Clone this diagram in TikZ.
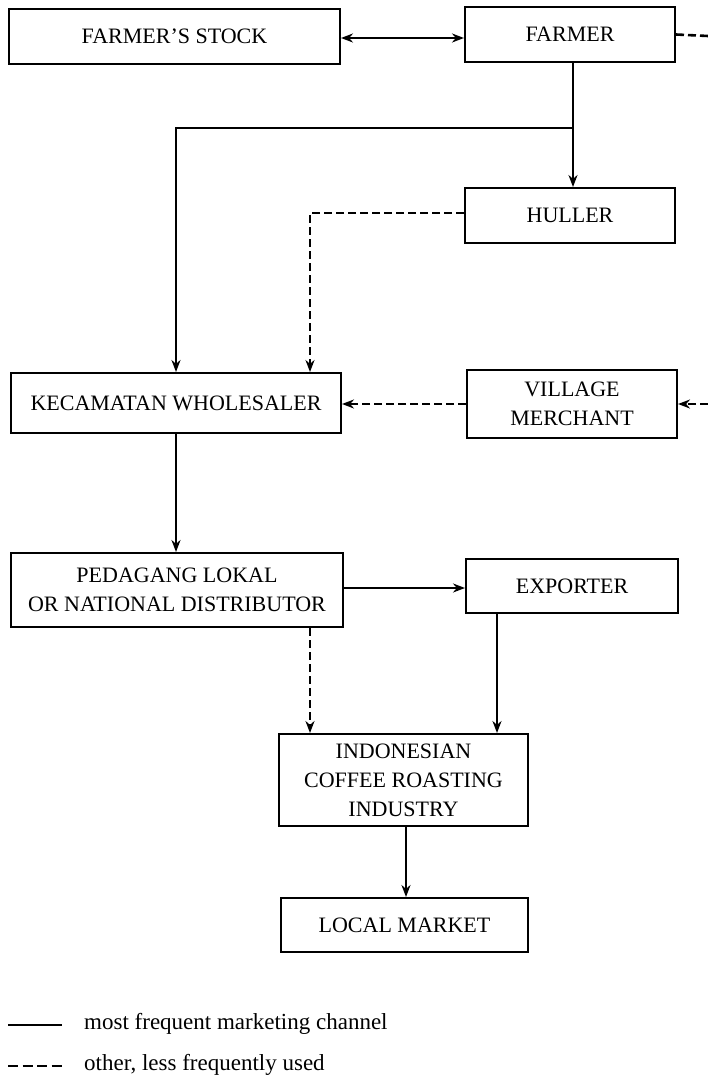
\documentclass[tikz,border=0pt]{standalone}
\usepackage{fontspec}
\setmainfont{Liberation Serif}
\usepackage{tikz}
\usetikzlibrary{arrows.meta,positioning,calc}

\begin{document}
\begin{tikzpicture}[x=1pt,y=-1pt,
		box/.style={draw, line width=2pt, align=center, inner sep=0pt, font=\fontsize{22}{29}\selectfont},
		often/.style={line width=2.6pt},
		rare/.style={line width=2.6pt, dash pattern=on 8pt off 4pt},
		tip/.style={-{Stealth[length=12pt,width=9pt]}},
		]
		\useasboundingbox (0,0) rectangle (708,1081);
		% boxes
		\node[box, minimum width=331pt, minimum height=55pt] (stock) at (174.5,36.5) {FARMER'S STOCK};
		\node[box, minimum width=210pt, minimum height=55pt] (farmer) at (570,34.5) {FARMER};
		\node[box, minimum width=210pt, minimum height=55pt] (huller) at (570,215.5) {HULLER};
		\node[box, minimum width=330pt, minimum height=60pt] (kec) at (176,403) {KECAMATAN WHOLESALER};
		\node[box, minimum width=210pt, minimum height=68pt] (village) at (572,404) {VILLAGE\\MERCHANT};
		\node[box, minimum width=332pt, minimum height=74pt] (pedagang) at (177,590) {PEDAGANG LOKAL\\OR NATIONAL DISTRIBUTOR};
		\node[box, minimum width=212pt, minimum height=54pt] (exporter) at (572,586) {EXPORTER};
		\node[box, minimum width=249pt, minimum height=92pt] (roast) at (403.5,780) {INDONESIAN\\COFFEE ROASTING\\INDUSTRY};
		\node[box, minimum width=247pt, minimum height=54pt] (local) at (404.5,925) {LOCAL MARKET};
		% free ends and corners
		\coordinate (fout) at (708,36);
		\coordinate (vin) at (708,404);
		\coordinate (split) at (573,128);
		\coordinate (hturn) at (310,213);
		\coordinate (kcol) at (176,0);
		\coordinate (xcol) at (497,0);
		\coordinate (rcol) at (406,0);
		\coordinate (prow) at (0,588);
		\coordinate (srow) at (0,38);
		% channels
		\draw[often, {Stealth[length=12pt,width=9pt]}-{Stealth[length=12pt,width=9pt]}] (stock.east |- srow) -- (farmer.west |- srow);
		\draw[rare] (farmer.east) -- (fout);
		\draw[often] (farmer.south -| split) -- (split);
		\draw[often, tip] (split) -- (huller.north -| split);
		\draw[often, tip] (split) -| (kec.north -| kcol);
		\draw[rare, tip] (huller.west |- hturn) -- (hturn) -- (kec.north -| hturn);
		\draw[rare, tip] (village.west) -- (village.west -| kec.east);
		\draw[rare, tip] (vin) -- (village.east);
		\draw[often, tip] (kec.south -| kcol) -- (pedagang.north -| kcol);
		\draw[often, tip] (pedagang.east |- prow) -- (exporter.west |- prow);
		\draw[rare, tip] (pedagang.south -| hturn) -- (roast.north -| hturn);
		\draw[often, tip] (exporter.south -| xcol) -- (roast.north -| xcol);
		\draw[often, tip] (roast.south -| rcol) -- (local.north -| rcol);
		% legend
		\coordinate (l1a) at (8,1025);
		\coordinate (l1b) at (62,1025);
		\coordinate (l2a) at (8,1066);
		\coordinate (l2b) at (62,1066);
		\draw[often] (l1a) -- (l1b);
		\draw[rare, dash pattern=on 10pt off 4.5pt] (l2a) -- (l2b);
		\node[anchor=west, inner sep=0pt, font=\fontsize{23}{26}\selectfont] (leg1) at (84,1024) {most frequent marketing channel};
		\node[anchor=west, inner sep=0pt, font=\fontsize{23}{26}\selectfont] (leg2) at (84,1065) {other, less frequently used};
	\end{tikzpicture}
\end{document}
